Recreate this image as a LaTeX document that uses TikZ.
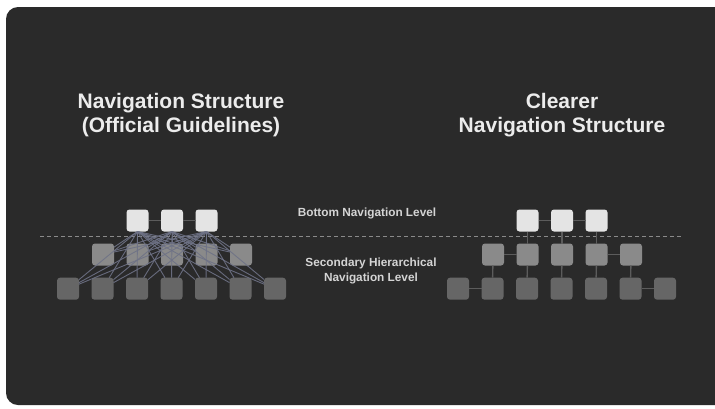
\documentclass[tikz,border=0pt]{standalone}
\usepackage{fontspec}
\setmainfont{Liberation Sans}
\usepackage{tikz}
\usetikzlibrary{positioning}

\definecolor{panelgray}{HTML}{2A2A2A}
\definecolor{toplight}{HTML}{E4E4E4}
\definecolor{midgray}{HTML}{8A8A8A}
\definecolor{botgray}{HTML}{666666}
\definecolor{meshblue}{HTML}{6E7286}
\definecolor{linkgray}{HTML}{5C5C5C}
\definecolor{titlewhite}{HTML}{ECECEC}

\begin{document}
\begin{tikzpicture}[
    x=1pt, y=-1pt,
    node distance=12.5pt,
    square/.style={rectangle, rounded corners=3pt, minimum size=22pt, inner sep=0pt, outer sep=0pt},
    topbox/.style={square, fill=toplight},
    midbox/.style={square, fill=midgray},
    botbox/.style={square, fill=botgray},
    link/.style={draw=linkgray, line width=1.4pt},
    mesh/.style={draw=meshblue, line width=0.9pt, opacity=0.9},
    title/.style={text=titlewhite, font=\fontsize{21}{24}\selectfont\bfseries, align=center},
    level/.style={text=titlewhite!90!black, font=\fontsize{11.8}{15}\selectfont\bfseries, align=center}
    ]

    % Panel
    \useasboundingbox (0,0) rectangle (715,408);
    \fill[white] (0,0) rectangle (715,408);
    \fill[panelgray, rounded corners=12pt] (6,7) rectangle (730,405);

    % Titles
    \node (lefttitle) [title] at (181,115) {Navigation Structure\\(Official Guidelines)};
    \node (righttitle) [title] at (562,115) {Clearer\\Navigation Structure};

    % Level labels
    \node (bottomlevel) [level] at (367,213) {Bottom Navigation Level};
    \node (secondlevel) [level] at (371,271) {Secondary Hierarchical\\Navigation Level};

    % Divider
    \coordinate (divleft) at (40,236);
    \coordinate (divright) at (683,236);
    \draw[midgray, line width=1pt, dash pattern=on 4pt off 3pt] (divleft) -- (divright);

    % Left structure
    \node (lt1) [topbox] at (137.5,220.5) {};
    \node (lt2) [topbox, right=of lt1] {};
    \node (lt3) [topbox, right=of lt2] {};

    \node (lm1) [midbox] at (103,254.5) {};
    \node (lm2) [midbox, right=of lm1] {};
    \node (lm3) [midbox, right=of lm2] {};
    \node (lm4) [midbox, right=of lm3] {};
    \node (lm5) [midbox, right=of lm4] {};

    \node (lb1) [botbox] at (68,288.7) {};
    \node (lb2) [botbox, right=of lb1] {};
    \node (lb3) [botbox, right=of lb2] {};
    \node (lb4) [botbox, right=of lb3] {};
    \node (lb5) [botbox, right=of lb4] {};
    \node (lb6) [botbox, right=of lb5] {};
    \node (lb7) [botbox, right=of lb6] {};

    \draw [link] (lt1) -- (lt2);
    \draw [link] (lt2) -- (lt3);
    \foreach \t in {lt1,lt2,lt3}
        \foreach \n in {lm1,lm2,lm3,lm4,lm5,lb1,lb2,lb3,lb4,lb5,lb6,lb7}
            \draw [mesh] (\t.south) -- (\n);

    % Right structure
    \node (rt1) [topbox] at (527.5,220.5) {};
    \node (rt2) [topbox, right=of rt1] {};
    \node (rt3) [topbox, right=of rt2] {};

    \node (rm1) [midbox] at (493,254.5) {};
    \node (rm2) [midbox, right=of rm1] {};
    \node (rm3) [midbox, right=of rm2] {};
    \node (rm4) [midbox, right=of rm3] {};
    \node (rm5) [midbox, right=of rm4] {};

    \node (rb1) [botbox] at (458,288.7) {};
    \node (rb2) [botbox, right=of rb1] {};
    \node (rb3) [botbox, right=of rb2] {};
    \node (rb4) [botbox, right=of rb3] {};
    \node (rb5) [botbox, right=of rb4] {};
    \node (rb6) [botbox, right=of rb5] {};
    \node (rb7) [botbox, right=of rb6] {};

    \draw [link] (rt1) -- (rt2);
    \draw [link] (rt2) -- (rt3);
    \draw [link] (rt1) -- (rm2);
    \draw [link] (rt2) -- (rm3);
    \draw [link] (rt3) -- (rm4);
    \draw [link] (rm1) -- (rm2);
    \draw [link] (rm4) -- (rm5);
    \draw [link] (rm1) -- (rb2);
    \draw [link] (rm2) -- (rb3);
    \draw [link] (rm3) -- (rb4);
    \draw [link] (rm4) -- (rb5);
    \draw [link] (rm5) -- (rb6);
    \draw [link] (rb1) -- (rb2);
    \draw [link] (rb6) -- (rb7);
\end{tikzpicture}
\end{document}
